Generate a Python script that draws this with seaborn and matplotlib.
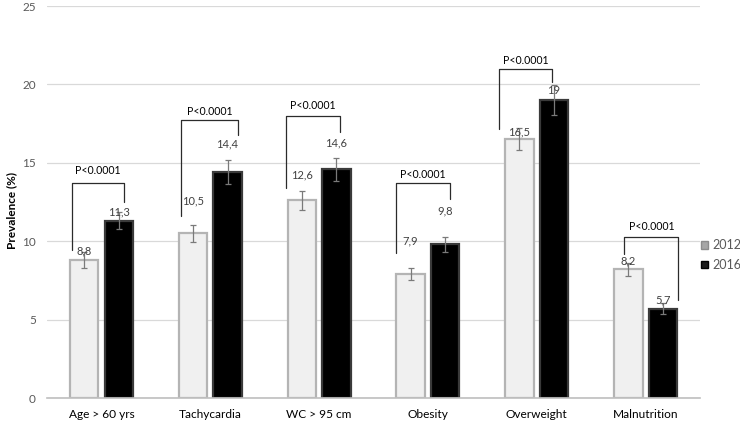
import matplotlib
matplotlib.use("Agg")
import matplotlib.pyplot as plt
import seaborn as sns
import pandas as pd
from matplotlib.patches import Patch

categories = ["Age > 60 yrs", "Tachycardia", "WC > 95 cm", "Obesity", "Overweight", "Malnutrition"]
years = ["2012", "2016"]
values_2012 = [8.8, 10.5, 12.6, 7.9, 16.5, 8.2]
values_2016 = [11.3, 14.4, 14.6, 9.8, 19.0, 5.7]
err_2012 = [0.5, 0.55, 0.63, 0.4, 0.7, 0.44]
err_2016 = [0.55, 0.75, 0.74, 0.5, 0.95, 0.33]
labels_2012 = ["8,8", "10,5", "12,6", "7,9", "16,5", "8,2"]
labels_2016 = ["11,3", "14,4", "14,6", "9,8", "19", "5,7"]
label_y_2012 = [9.37, 12.6, 14.26, 10.0, 17.0, 8.73]
label_y_2016 = [11.85, 16.2, 16.3, 11.96, 19.6, 6.27]
p_text = "P<0.0001"
bracket_top = [13.69, 17.75, 18.0, 13.7, 20.97, 10.27]
bracket_left_bottom = [9.47, 11.6, 13.4, 9.26, 17.13, 9.16]
bracket_right_bottom = [12.53, 16.8, 16.96, 12.7, 20.17, 6.25]
bracket_left_dx = [-0.274, -0.267, -0.30, -0.29, -0.35, -0.195]
bracket_right_dx = [0.21, 0.255, 0.19, 0.20, 0.14, 0.30]
p_y = [14.5, 18.3, 18.65, 14.26, 21.5, 10.95]

df = pd.DataFrame({
    "category": categories * 2,
    "year": [years[0]] * len(categories) + [years[1]] * len(categories),
    "value": values_2012 + values_2016,
})

sns.set_theme(style="white")
plt.rcParams["font.family"] = ["Lato", "DejaVu Sans"]

fig = plt.figure(figsize=(7.4, 4.21), dpi=100)
ax = fig.add_axes([0.0635, 0.0546, 0.8825, 0.931])

face = {"2012": "#f0f0f0", "2016": "#000000"}
edge = {"2012": "#b4b4b4", "2016": "#3a3a3a"}
sns.barplot(data=df, x="category", y="value", hue="year", order=categories,
            hue_order=years, palette=face, width=0.635, gap=0.18,
            errorbar=None, legend=False, ax=ax, linewidth=0)

errs = [err_2012, err_2016]
labs = [labels_2012, labels_2016]
laby = [label_y_2012, label_y_2016]
vals = [values_2012, values_2016]
bar_containers = list(ax.containers)
for k, cont in enumerate(bar_containers):
    yr = years[k]
    for i, bar in enumerate(cont):
        bar.set_edgecolor(edge[yr])
        bar.set_linewidth(1.6)
        cx = bar.get_x() + bar.get_width() / 2
        ax.errorbar(cx, vals[k][i], yerr=errs[k][i], fmt="none",
                    ecolor="#7a7a7a", elinewidth=0.9, capsize=2.2, capthick=0.9, zorder=5)
        ax.text(cx, laby[k][i], labs[k][i], ha="center", va="center",
                fontsize=8, color="#404040", zorder=6)

for i in range(len(categories)):
    xl = i + bracket_left_dx[i]
    xr = i + bracket_right_dx[i]
    ax.plot([xl, xl, xr, xr],
            [bracket_left_bottom[i], bracket_top[i], bracket_top[i], bracket_right_bottom[i]],
            color="#2b2b2b", lw=0.9, zorder=6)
    ax.text((xl + xr) / 2, p_y[i], p_text, ha="center", va="center",
            fontsize=7.6, color="#000000", zorder=6)

ax.set_xlim(-0.5, len(categories) - 0.5)
ax.set_ylim(0, 25)
ax.set_yticks([0, 5, 10, 15, 20, 25])
ax.yaxis.grid(True, color="#d9d9d9", lw=0.9)
ax.set_axisbelow(True)
for s in ["left", "right", "top"]:
    ax.spines[s].set_visible(False)
ax.spines["bottom"].set_color("#bfbfbf")
ax.spines["bottom"].set_linewidth(1.2)
ax.tick_params(axis="both", length=0, colors="#595959", labelsize=8.5)
ax.tick_params(axis="y", pad=8)
ax.tick_params(axis="x", labelcolor="#000000", labelsize=8.6, pad=8)
ax.set_xlabel("")
ax.set_ylabel("")
fig.text(12 / 740, 0.5, "Prevalence (%)", rotation=90, ha="center", va="center",
         fontsize=8.5, fontweight="bold", color="#000000")

handles = [Patch(facecolor="#a6a6a6", edgecolor="#8c8c8c", label="2012"),
           Patch(facecolor="#1a1a1a", edgecolor="#000000", label="2016")]
leg = fig.legend(handles=handles, loc="center left", bbox_to_anchor=(0.947, 0.394),
                 frameon=False, fontsize=9, handlelength=0.55, handleheight=0.55,
                 handletextpad=0.35, labelspacing=0.6, borderpad=0, borderaxespad=0)
for t in leg.get_texts():
    t.set_color("#595959")

fig.savefig("out.png", dpi=100)
